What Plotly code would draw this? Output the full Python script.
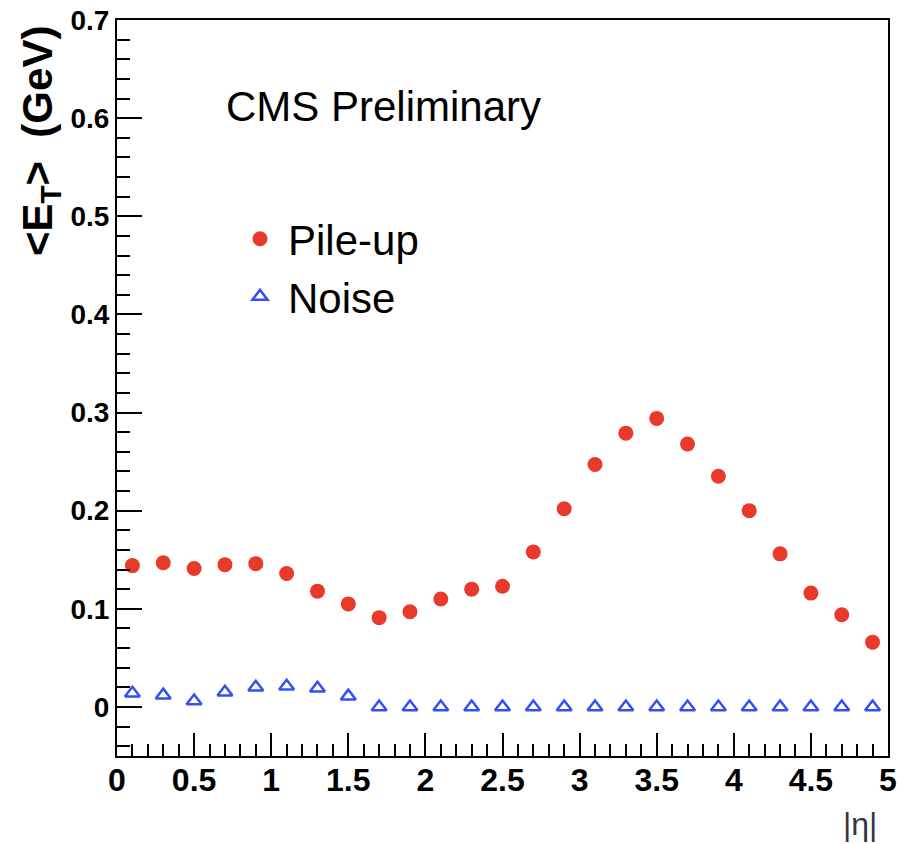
import plotly.graph_objects as go

eta = [0.1, 0.3, 0.5, 0.7, 0.9, 1.1, 1.3, 1.5, 1.7, 1.9, 2.1, 2.3, 2.5,
       2.7, 2.9, 3.1, 3.3, 3.5, 3.7, 3.9, 4.1, 4.3, 4.5, 4.7, 4.9]
pileup = [0.144, 0.147, 0.141, 0.145, 0.146, 0.136, 0.118, 0.105, 0.091, 0.097,
          0.110, 0.120, 0.123, 0.158, 0.202, 0.247, 0.279, 0.294, 0.268, 0.235,
          0.200, 0.156, 0.116, 0.094, 0.066]
noise = [0.014, 0.012, 0.006, 0.015, 0.020, 0.021, 0.019, 0.011, 0.0, 0.0,
         0.0, 0.0, 0.0, 0.0, 0.0, 0.0, 0.0, 0.0, 0.0, 0.0,
         0.0, 0.0, 0.0, 0.0, 0.0]

FONT = "Liberation Sans, Arial, Helvetica, sans-serif"
RED = "#e8392b"
BLUE = "#3550f2"

fig = go.Figure()
fig.add_trace(go.Scatter(x=eta, y=pileup, mode="markers", name="Pile-up",
                         marker=dict(symbol="circle", size=15, color=RED)))
fig.add_trace(go.Scatter(x=eta, y=noise, mode="markers", name="Noise",
                         marker=dict(symbol="triangle-up-open", size=13, color=BLUE,
                                     line=dict(width=2.5, color=BLUE))))

axis_common = dict(showgrid=False, zeroline=False, showline=True, linecolor="black",
                   linewidth=2, mirror=True, ticks="inside", tickcolor="black",
                   tickwidth=2, automargin=False)

fig.update_xaxes(range=[0, 5], tick0=0, dtick=0.5, ticklen=23,
                 ticklabelstandoff=-5,
                 tickfont=dict(family=FONT, size=32, color="black", weight="bold"),
                 minor=dict(dtick=0.1, ticks="inside", ticklen=12, tickwidth=2,
                            tickcolor="black", showgrid=False),
                 **axis_common)
fig.update_yaxes(range=[-0.05, 0.7], tick0=0, dtick=0.1, ticklen=25,
                 tickfont=dict(family=FONT, size=28, color="black", weight="bold"),
                 minor=dict(dtick=0.02, ticks="inside", ticklen=13, tickwidth=2,
                            tickcolor="black", showgrid=False),
                 **axis_common)

fig.add_annotation(text="CMS Preliminary", xref="paper", yref="paper",
                   x=(224 - 117) / 771, y=1 - (106 - 20) / 736, xanchor="left",
                   yanchor="middle", showarrow=False,
                   font=dict(family=FONT, size=42, color="black"))
fig.add_annotation(text="&lt;E<sub>T</sub>&gt;  (GeV)", xref="paper", yref="paper",
                   x=(40 - 117) / 771, y=1 - (24 - 20) / 736, xanchor="center",
                   yanchor="top", textangle=-90, showarrow=False,
                   font=dict(family=FONT, size=42, color="black", weight="bold"))
fig.add_annotation(text="|η|", xref="paper", yref="paper",
                   x=(879 - 117) / 771, y=1 - (824 - 20) / 736, xanchor="right",
                   yanchor="middle", showarrow=False,
                   font=dict(family=FONT, size=32, color="#333344"))

fig.update_layout(
    width=906, height=844, autosize=False,
    margin=dict(l=117, r=18, t=20, b=88),
    paper_bgcolor="white", plot_bgcolor="white",
    showlegend=True,
    legend=dict(x=(232 - 117) / 771, y=1 - (205 - 20) / 736, xanchor="left",
                yanchor="top", bgcolor="rgba(0,0,0,0)", itemwidth=46,
                font=dict(family=FONT, size=42, color="black")),
)

fig.write_html("out.html")
